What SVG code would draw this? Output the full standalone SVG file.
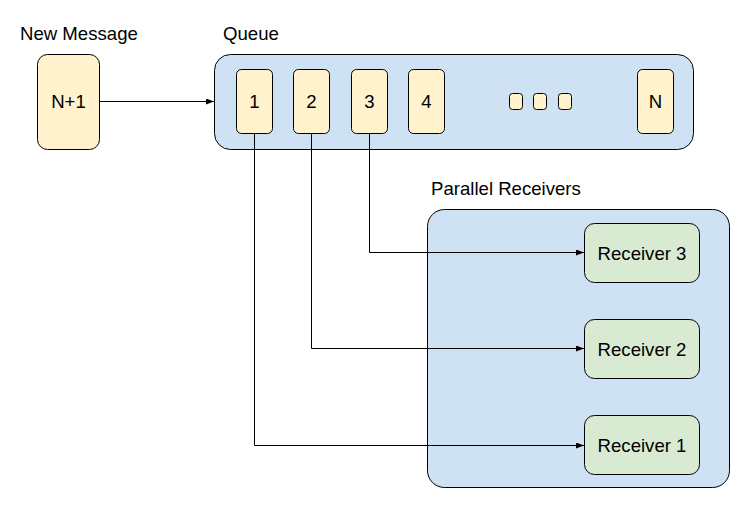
<svg xmlns="http://www.w3.org/2000/svg" width="744" height="505" viewBox="0 0 744 505">
<defs>
<style>
text{font-family:"Liberation Sans",Arial,sans-serif;font-size:18.6px;fill:#000}
.c{text-anchor:middle}
.y{fill:#fff2cc;stroke:#000;stroke-width:1}
.b{fill:#cfe2f3;stroke:#000;stroke-width:1}
.g{fill:#d9ead3;stroke:#000;stroke-width:1}
.ln{fill:none;stroke:#000;stroke-width:1}
</style>
<marker id="ah" viewBox="0 0 8 6" refX="8" refY="3" markerWidth="8" markerHeight="6" markerUnits="userSpaceOnUse" orient="auto">
<path d="M0,0 L8,3 L0,6 Z" fill="#000"/>
</marker>
</defs>
<rect width="744" height="505" fill="#fff"/>
<g id="labels">
<text x="20" y="40">New Message</text>
<text x="223" y="40">Queue</text>
<text x="431" y="195">Parallel Receivers</text>
</g>
<g id="new-message">
<rect class="y" x="37.5" y="54.5" width="62" height="95" rx="10"/>
<text class="c" x="68.5" y="108">N+1</text>
</g>
<g id="queue">
<rect class="b" x="214.5" y="54.5" width="479" height="95" rx="16"/>
</g>
<g id="item-1"><rect class="y" x="236.5" y="69.5" width="36" height="64" rx="5"/><text class="c" x="254.5" y="108">1</text></g>
<g id="item-2"><rect class="y" x="293.5" y="69.5" width="36" height="64" rx="5"/><text class="c" x="311.5" y="108">2</text></g>
<g id="item-3"><rect class="y" x="351.5" y="69.5" width="36" height="64" rx="5"/><text class="c" x="369.5" y="108">3</text></g>
<g id="item-4"><rect class="y" x="408.5" y="69.5" width="36" height="64" rx="5"/><text class="c" x="426.5" y="108">4</text></g>
<g id="ellipsis">
<rect class="y" x="509.5" y="93.5" width="13" height="16" rx="3"/>
<rect class="y" x="533.5" y="93.5" width="13" height="16" rx="3"/>
<rect class="y" x="558.5" y="93.5" width="13" height="16" rx="3"/>
</g>
<g id="item-n"><rect class="y" x="637.5" y="69.5" width="36" height="64" rx="5"/><text class="c" x="655.5" y="108">N</text></g>
<g id="parallel-receivers">
<rect class="b" x="427.5" y="209.5" width="302" height="278" rx="17"/>
</g>
<g id="receiver-3"><rect class="g" x="584.5" y="223.5" width="115" height="59" rx="10"/><text class="c" x="642" y="259.5">Receiver 3</text></g>
<g id="receiver-2"><rect class="g" x="584.5" y="319.5" width="115" height="59" rx="10"/><text class="c" x="642" y="355.5">Receiver 2</text></g>
<g id="receiver-1"><rect class="g" x="584.5" y="415.5" width="115" height="59" rx="10"/><text class="c" x="642" y="451.5">Receiver 1</text></g>
<g id="connectors">
<path class="ln" d="M99.5,101.5 H214" marker-end="url(#ah)"/>
<path class="ln" d="M369.5,133.5 V252.5 H584" marker-end="url(#ah)"/>
<path class="ln" d="M311.5,133.5 V348.5 H584" marker-end="url(#ah)"/>
<path class="ln" d="M254.5,133.5 V445.5 H584" marker-end="url(#ah)"/>
</g>
</svg>
